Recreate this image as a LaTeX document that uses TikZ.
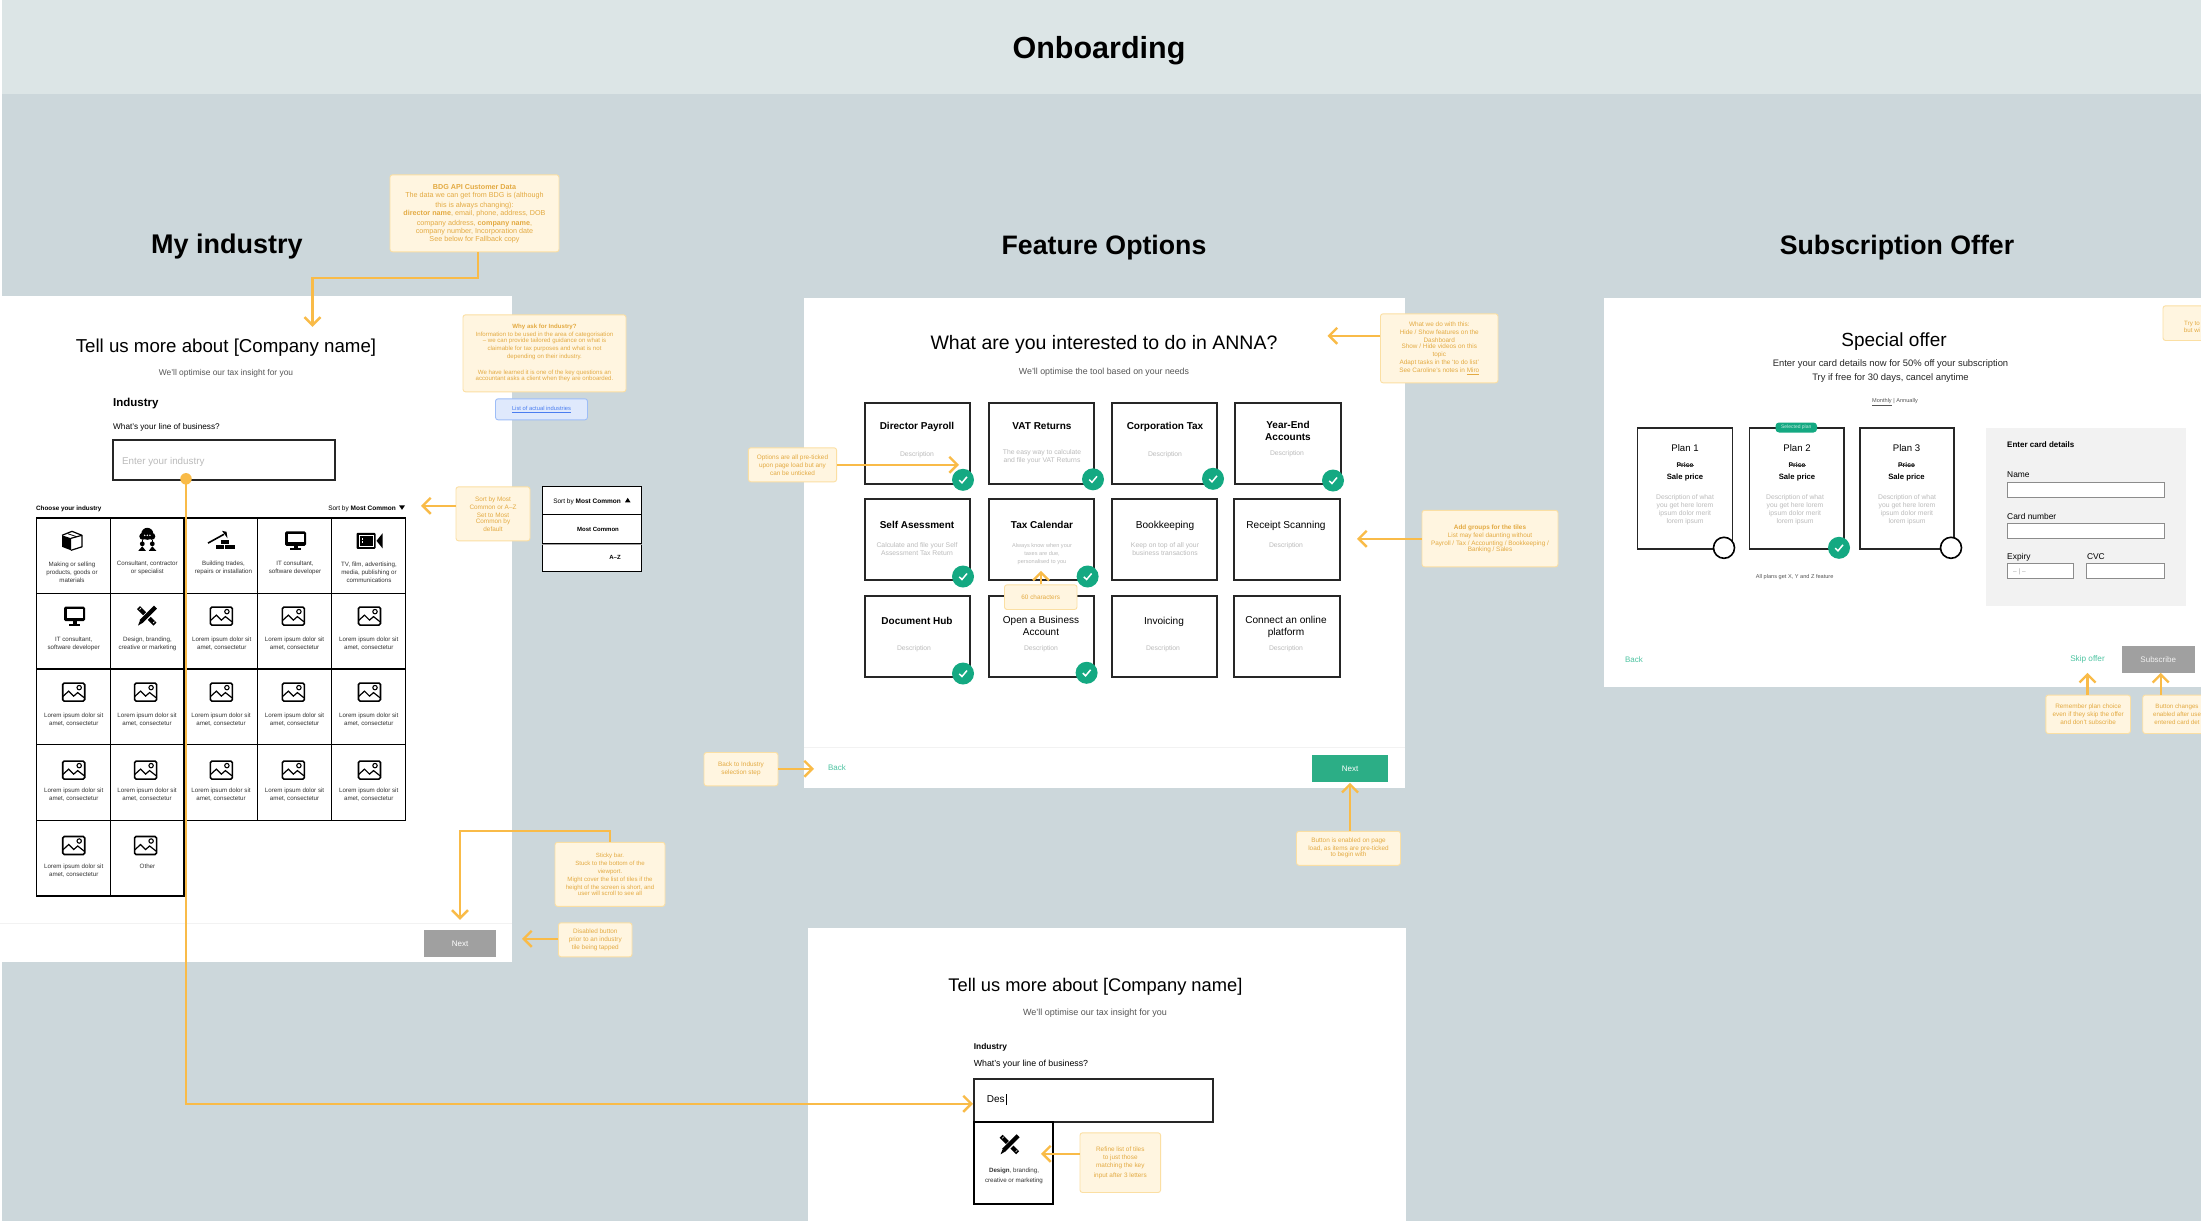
\documentclass[tikz,border=0pt]{standalone}
\usepackage{fontspec}
\setmainfont{Liberation Sans}
\usetikzlibrary{arrows.meta}
\definecolor{bgc}{HTML}{CCD7DB}
\definecolor{headc}{HTML}{DCE5E6}
\definecolor{notef}{HTML}{FFF5E0}
\definecolor{noteb}{HTML}{FBDFA3}
\definecolor{notet}{HTML}{E3AA42}
\definecolor{org}{HTML}{F9BB48}
\definecolor{grn}{HTML}{14A982}
\definecolor{btng}{HTML}{2CAE86}
\definecolor{lnk}{HTML}{4EC4A2}
\definecolor{dis}{HTML}{A0A0A0}
\definecolor{soft}{HTML}{BBBBBB}
\definecolor{sub}{HTML}{555555}
\definecolor{lab}{HTML}{333333}
\definecolor{infof}{HTML}{DFE9FC}
\definecolor{infob}{HTML}{9DBDF7}
\definecolor{infot}{HTML}{4A7DF0}
\newcommand\bx[7]{\node[#2,inner sep=0pt,minimum width={(#5-#3)*1pt},minimum height={(#6-#4)*1pt}] (#1) at ({(#3+#5)/2},{(#4+#6)/2}) {#7};}
\newcommand\tx[6]{\node[anchor=base,inner sep=0pt,font=\fontsize{#3}{#3}\selectfont,#2] (#1) at (#4,{#5+0.36*#3}) {#6};}
\newcommand\tm[7]{\node[align=center,inner sep=0pt,font=\fontsize{#3}{#4}\selectfont,#2] (#1) at (#5,#6) {#7};}
\newcommand\chk[3]{\node[chkc] (#1) at (#2,#3) {};\draw[white,line width=1.5pt] ([shift={(-3.8,0.3)}]#1.center) -- ([shift={(-1,3)}]#1.center) -- ([shift={(4,-3)}]#1.center);}
\tikzset{
  frame/.style={fill=white,draw=none},
  tile/.style={draw=black,fill=white,line width=1.4pt},
  ftile/.style={draw=black!85,fill=white,line width=1.5pt},
  inp/.style={draw=black!85,fill=white,line width=1.7pt},
  ginp/.style={draw=black!45,fill=white,line width=1pt},
  note/.style={fill=notef,draw=noteb,line width=.9pt,rounded corners=2.5pt,text=notet,align=center,font=\fontsize{6.4}{8}\selectfont},
  arr/.style={draw=org,line width=2.4pt,-{Straight Barb[length=8pt,width=16pt,line width=2.4pt]}},
  chkc/.style={circle,fill=grn,minimum size=22pt,inner sep=0pt},
  emptyc/.style={circle,fill=white,draw=black,line width=1.6pt,minimum size=21pt,inner sep=0pt},
  imgicon/.pic={\draw[black,line width=1.6pt,rounded corners=1.5pt,fill=white] (-11,-9) rectangle (11,9);
    \draw[black,line width=1.2pt] (-11,4.5) -- (-5,-1) -- (0,4) -- (4,0.5) -- (11,6);
    \draw[black,line width=1.1pt] (5.5,-4.5) circle (2.2);},
  monicon/.pic={\fill[black,rounded corners=1.5pt] (-10.5,-9.5) rectangle (10.5,5);
    \fill[white] (-8,-7) rectangle (8,1.5);
    \fill[black] (-2,5) rectangle (2,8);
    \fill[black] (-5.5,7.5) rectangle (5.5,9.5);},
  cubeicon/.pic={\fill[black] (-10,-5.5) -- (-1,-2.5) -- (-1,9.5) -- (-10,6) -- cycle;
    \draw[black,line width=1.2pt,line join=round] (-1,-2.5) -- (10,-5.5) -- (10,6) -- (-1,9.5);
    \draw[black,line width=1.2pt,line join=round] (-10,-5.5) -- (0,-9.5) -- (10,-5.5);
    \draw[black,line width=.8pt] (-4,-7) -- (5,-4);},
  considon/.pic={\fill[black] (0,-7) circle (6);
    \fill[black] (-4.5,-4.5) circle (3.5);\fill[black] (4.5,-4.5) circle (3.5);
    \fill[white] (-2.6,-5.5) circle (.8);\fill[white] (0,-5.5) circle (.8);\fill[white] (2.6,-5.5) circle (.8);
    \draw[black,line width=.7pt] (-5,-1) -- (-5,1);\draw[black,line width=.7pt] (5,-1) -- (5,1);
    \fill[black] (-5,3) circle (2.4);\fill[black] (5,3) circle (2.4);
    \fill[black] (-5,5.5) -- (-1.5,10) -- (-9,10) -- cycle;\fill[black] (5,5.5) -- (9,10) -- (1.5,10) -- cycle;},
  hamicon/.pic={\draw[black,line width=1.6pt] (-13,2.3) -- (3,-6.5);
    \fill[black] (1,-10) -- (5.5,-9) -- (6.5,-2.5) -- (4,-6) -- cycle;
    \fill[black] (0,-1) rectangle (8,3);
    \fill[black] (-5,4.5) rectangle (2.5,8.5);\fill[black] (4,4.5) rectangle (14,8.5);},
  camicon/.pic={\fill[black,rounded corners=1pt] (-13,-8) rectangle (6,8);
    \draw[white,line width=.8pt] (-10,-5.5) rectangle (3.5,5.5);
    \fill[white] (-7.5,-3) rectangle (-6.7,-1);\fill[white] (-7.5,.5) rectangle (-6.7,2.5);
    \fill[black] (7,0) -- (13,-7.5) -- (13,7.5) -- cycle;},
  penicon/.pic={\draw[black,line width=4.2pt] (-8.5,-8.5) -- (8,8);
    \draw[white,line width=6.2pt] (7,-7) -- (-6,6);
    \draw[black,line width=4.2pt] (8.5,-9) -- (-6,5.5);
    \fill[black] (-4.5,6.8) -- (-9,9.5) -- (-7,4.5) -- cycle;
    \draw[white,line width=.6pt] (-6,-8) -- (-7.5,-6.5);\draw[white,line width=.6pt] (6,7) -- (7.5,5.5);}
}
\begin{document}
\begin{tikzpicture}[x=1pt,y=-1pt]
\useasboundingbox (0,0) rectangle (2201,1221);
\clip (0,0) rectangle (2201,1221);
% backgrounds
\bx{page}{fill=white}{0}{0}{2201}{1221}{}
\bx{canvas}{fill=bgc}{2}{94}{2201}{1221}{}
\bx{header}{fill=headc}{2}{0}{2201}{94}{}
\tx{tOnb}{}{30.5}{1099}{48}{\textbf{Onboarding}}
\begin{scope}[yshift=-0.8pt]
\tx{tInd}{}{27}{227}{243}{\textbf{My industry}}
\tx{tFea}{}{26.7}{1104}{244}{\textbf{Feature Options}}
\tx{tSub}{}{26.7}{1897}{244}{\textbf{Subscription Offer}}
% ---- frames
\bx{frameA}{frame}{0}{295}{512}{961}{}
\bx{frameB}{frame}{804}{297}{1404.5}{787}{}
\bx{frameC}{frame}{1604}{297}{2201}{686}{}
\bx{frameD}{frame}{808}{927}{1406}{1222}{}
% ---- My industry
\tx{a1}{}{18.7}{226}{345}{Tell us more about [Company name]}
\tx{a2}{text=sub}{8.4}{226}{372}{We'll optimise our tax insight for you}
\tx{a3}{anchor=base west}{11.5}{113}{402}{\textbf{Industry}}
\tx{a4}{anchor=base west}{8.2}{113}{426}{What's your line of business?}
\bx{a5}{inp}{113}{439}{335}{479}{}
\tx{a6}{anchor=base west,text=soft}{9.8}{122}{460}{Enter your industry}
\tx{a7}{anchor=base west}{6.3}{36}{507}{\textbf{Choose your industry}}
\tx{a8}{anchor=base east}{6.5}{396}{507}{Sort by \textbf{Most Common}}
\fill[black] (399,504.5) -- (405,504.5) -- (402,509) -- cycle;
\foreach \r in {0,1,2,3}{\foreach \c in {0,1,2,3,4}{
  \pgfmathsetmacro\xa{36.6+73.73*\c}\pgfmathsetmacro\xb{\xa+73.73}
  \pgfmathsetmacro\ya{517+75.6*\r}\pgfmathsetmacro\yb{\ya+75.6}
  \bx{g\r\c}{tile}{\xa}{\ya}{\xb}{\yb}{}
}}
\foreach \c in {0,1}{
  \pgfmathsetmacro\xa{36.6+73.73*\c}\pgfmathsetmacro\xb{\xa+73.73}
  \bx{g4\c}{tile}{\xa}{819.4}{\xb}{895}{}
}
\pic at (72,540) {cubeicon};
\pic at (147.3,540) {considon};
\pic at (221,540) {hamicon};
\pic at (295.5,540) {monicon};
\pic at (369.5,540) {camicon};
\pic at (74.5,615.3) {monicon};
\pic at (147,615.3) {penicon};
\foreach \x in {221.4,293.4,369.5}{\pic at (\x,615.3) {imgicon};}
\foreach \x in {73.7,145.6,221.4,293.4,369.5}{\pic at (\x,691.3) {imgicon};\pic at (\x,769.3) {imgicon};}
\foreach \x in {73.7,145.6}{\pic at (\x,844.7) {imgicon};}
\tm{l00}{text=lab}{6.2}{8}{72}{571.5}{Making or selling\\products, goods or\\materials}
\tm{l01}{text=lab}{6.2}{8}{147.3}{567.5}{Consultant, contractor\\or specialist}
\tm{l02}{text=lab}{6.2}{8}{223.5}{567.5}{Building trades,\\repairs or installation}
\tm{l03}{text=lab}{6.2}{8}{295}{567.5}{IT consultant,\\software developer}
\tm{l04}{text=lab}{6.2}{8}{369}{571.5}{TV, film, advertising,\\media, publishing or\\communications}
\tm{l10}{text=lab}{6.2}{8}{73.7}{643.3}{IT consultant,\\software developer}
\tm{l11}{text=lab}{6.2}{8}{147.5}{643.3}{Design, branding,\\creative or marketing}
\foreach \i/\x in {2/221.7,3/294.6,4/368.7}{\tm{l1\i}{text=lab}{6.2}{8}{\x}{643.3}{Lorem ipsum dolor sit\\amet, consectetur}}
\foreach \i/\x in {0/73.7,1/147,2/221,3/294.6,4/368.7}{
  \tm{l2\i}{text=lab}{6.2}{8}{\x}{718.7}{Lorem ipsum dolor sit\\amet, consectetur}
  \tm{l3\i}{text=lab}{6.2}{8}{\x}{794}{Lorem ipsum dolor sit\\amet, consectetur}
}
\tm{l40}{text=lab}{6.2}{8}{73.7}{869.7}{Lorem ipsum dolor sit\\amet, consectetur}
\tm{l41}{text=lab}{6.2}{8}{147.5}{865.7}{Other}
\draw[black!5,line width=1pt] (frameA.west |- 0,922.7) -- (frameA.east |- 0,922.7);
\bx{nextA}{fill=dis,text=white,font=\fontsize{8}{8}\selectfont}{424}{929}{496}{956}{Next}
% dropdown
\bx{dd1}{tile,line width=1.2pt}{542.5}{485.7}{641.5}{514}{}
\bx{dd2}{tile,line width=1.2pt}{542.5}{514}{641.5}{543}{}
\bx{dd3}{tile,line width=1.2pt}{542.5}{543}{641.5}{571}{}
\draw[dis,line width=1.6pt] (dd2.south west) -- (dd2.south east);
\tx{dd1t}{anchor=base east}{6.5}{621}{500}{Sort by \textbf{Most Common}}
\fill[black] (625,501.5) -- (630.5,501.5) -- (627.7,497) -- cycle;
\tx{dd2t}{}{6}{598}{529}{\textbf{Most Common}}
\tx{dd3t}{}{6}{615}{557}{\textbf{A–Z}}
% ---- Feature options
\tx{b1}{}{19.5}{1104}{342}{What are you interested to do in ANNA?}
\tx{b2}{text=sub}{8.8}{1104}{371}{We'll optimise the tool based on your needs}
\bx{f1}{ftile}{865}{402}{970}{483}{}
\bx{f2}{ftile}{989}{402}{1094}{483}{}
\bx{f3}{ftile}{1112}{402}{1217}{483}{}
\bx{f4}{ftile}{1235}{402}{1341}{483}{}
\bx{f5}{ftile}{865}{498}{970}{579}{}
\bx{f6}{ftile}{989}{498}{1094}{579}{}
\bx{f7}{ftile}{1112}{498}{1217}{579}{}
\bx{f8}{ftile}{1234}{498}{1340}{579}{}
\bx{f9}{ftile}{865}{595}{970}{676}{}
\bx{f10}{ftile}{989}{595}{1094}{676}{}
\bx{f11}{ftile}{1112}{595}{1217}{676}{}
\bx{f12}{ftile}{1234}{595}{1340}{676}{}
\tx{f1t}{}{10}{917}{425}{\textbf{Director Payroll}}
\tx{f2t}{}{10}{1042}{425}{\textbf{VAT Returns}}
\tx{f3t}{}{10}{1165}{425}{\textbf{Corporation Tax}}
\tm{f4t}{}{10}{12}{1288}{430}{\textbf{Year-End}\\\textbf{Accounts}}
\tx{f5t}{}{10}{917}{524}{\textbf{Self Asessment}}
\tx{f6t}{}{10}{1042}{524}{\textbf{Tax Calendar}}
\tx{f7t}{}{10.1}{1165}{524}{Bookkeeping}
\tx{f8t}{}{10.1}{1286}{524}{Receipt Scanning}
\tx{f9t}{}{10}{917}{620}{\textbf{Document Hub}}
\tm{f10t}{}{10}{12}{1041}{625.5}{Open a Business\\Account}
\tx{f11t}{}{10.1}{1164}{620}{Invoicing}
\tm{f12t}{}{10.1}{12}{1286}{626}{Connect an online\\platform}
\tx{f1d}{text=soft}{6.8}{917}{453}{Description}
\tm{f2d}{text=soft}{6.8}{8}{1042}{456}{The easy way to calculate\\and file your VAT Returns}
\tx{f3d}{text=soft}{6.8}{1165}{453}{Description}
\tx{f4d}{text=soft}{6.8}{1287}{452.5}{Description}
\tm{f5d}{text=soft}{6.8}{8}{917}{548}{Calculate and file your Self\\Assessment Tax Return}
\tm{f6d}{text=soft}{5.6}{8}{1042}{553}{Always know when your\\taxes are due,\\personalised to you}
\tm{f7d}{text=soft}{6.8}{8}{1165}{548}{Keep on top of all your\\business transactions}
\tx{f8d}{text=soft}{6.8}{1286}{544.5}{Description}
\tx{f9d}{text=soft}{6.8}{914}{647}{Description}
\tx{f10d}{text=soft}{6.8}{1041}{647}{Description}
\tx{f11d}{text=soft}{6.8}{1163}{647}{Description}
\tx{f12d}{text=soft}{6.8}{1286}{647}{Description}
\chk{c1}{963}{479}
\chk{c2}{1093}{478.5}
\chk{c3}{1213}{478}
\chk{c4}{1333}{479.7}
\chk{c5}{963}{575.7}
\chk{c6}{1087.6}{575.7}
\chk{c9}{963}{672.7}
\chk{c10}{1086.6}{672}
\draw[black!5,line width=1pt] (frameB.west |- 0,746.7) -- (frameB.east |- 0,746.7);
\tx{backB}{text=lnk}{8}{837}{767}{Back}
\bx{nextB}{fill=btng,text=white,font=\fontsize{8}{8}\selectfont}{1312}{754}{1388}{781}{Next}
% ---- Bottom frame
\tx{d1}{}{18.3}{1095.4}{984}{Tell us more about [Company name]}
\tx{d2}{text=sub}{9}{1095}{1011}{We'll optimise our tax insight for you}
\tx{d3}{anchor=base west}{8.4}{973.6}{1046}{\textbf{Industry}}
\tx{d4}{anchor=base west}{8.8}{973.6}{1063}{What's your line of business?}
\bx{d5}{inp}{974}{1078}{1213}{1121}{}
\tx{d6}{anchor=base west}{10}{986.6}{1098}{Des}
\draw[black,line width=.8pt] ([shift={(1.2,-1)}]d6.north east) -- ([shift={(1.2,10)}]d6.north east);
\bx{d7}{tile}{974}{1121}{1053}{1203}{}
\pic at (1009.6,1144) {penicon};
\tm{d8}{text=lab}{6.2}{10}{1014}{1175.3}{\textbf{Design}, branding,\\creative or marketing}
% ---- Subscription
\tx{s1}{}{19}{1894}{338.7}{Special offer}
\tm{s2}{text=black!85}{9.4}{14}{1890.5}{370.7}{Enter your card details now for 50\% off your subscription\\Try if free for 30 days, cancel anytime}
\tx{s3}{text=sub}{5.6}{1895}{400}{\underline{Monthly} | Annually}
\bx{p1}{ftile}{1637.6}{427}{1732.6}{548}{}
\bx{p2}{ftile}{1749.5}{427}{1843.8}{548}{}
\bx{p3}{ftile}{1860}{427}{1954}{548}{}
\bx{pill}{fill=grn,rounded corners=3.5pt,text=white!75!grn,font=\fontsize{5}{5}\selectfont}{1775.5}{421.7}{1817}{431.7}{Selected plan}
\foreach \n/\x/\dx in {1/1685/1685,2/1797/1795,3/1906.5/1907}{
  \tx{pt\n}{}{9.6}{\x}{447}{Plan \n}
  \tx{pr\n}{}{6.8}{\x}{464.3}{\textbf{Price}}
  \draw[black!70,line width=.35pt] (pr\n.west) -- (pr\n.east);
  \tx{ps\n}{}{7.7}{\x}{476.3}{\textbf{Sale price}}
  \tm{pd\n}{text=soft}{6.8}{8.1}{\dx}{509}{Description of what\\you get here lorem\\ipsum dolor merit\\lorem ipsum}
}
\node[emptyc] (r1) at (1724,547) {};
\chk{r2}{1839}{547}
\node[emptyc] (r3) at (1951,547) {};
\tx{s4}{text=sub}{5.6}{1794.7}{575.7}{All plans get X, Y and Z feature}
\bx{card}{fill=black!5}{1986}{427}{2186.4}{604.7}{}
\tx{s5}{anchor=base west}{8}{2007}{444}{\textbf{Enter card details}}
\tx{s6}{anchor=base west}{8.4}{2007}{474}{Name}
\bx{i1}{ginp}{2007}{481.3}{2164}{496.7}{}
\tx{s7}{anchor=base west}{8.4}{2007}{515.7}{Card number}
\bx{i2}{ginp}{2007}{523}{2164}{538}{}
\tx{s8}{anchor=base west}{8.4}{2007}{555.7}{Expiry}
\bx{i3}{ginp}{2007}{562.3}{2073.7}{577.7}{}
\tx{s9}{anchor=base west,text=dis}{6.5}{2013}{570}{-- | --}
\tx{s10}{anchor=base west}{8.4}{2086.8}{555.7}{CVC}
\bx{i4}{ginp}{2086.8}{562.3}{2164}{577.7}{}
\tx{backC}{text=lnk}{8}{1634}{658.7}{Back}
\tx{skip}{text=lnk}{8.2}{2087.5}{658}{Skip offer}
\bx{subs}{fill=dis,text=white!85!dis,font=\fontsize{8}{8}\selectfont}{2122}{645}{2194.5}{671.7}{Subscribe}
% ---- notes
\bx{nBdg}{note,font=\fontsize{7.2}{8}\selectfont}{390}{174}{559}{251}{\textbf{BDG API Customer Data}\\The data we can get from BDG is (although\\[2pt]this is always changing):\\\textbf{director name}, email, phone, address, DOB\\[2pt]company address, \textbf{company name},\\company number, Incorporation date\\See below for Fallback copy}
\bx{nWhy}{note,font=\fontsize{6.1}{8}\selectfont}{463}{314}{626}{391}{\textbf{Why ask for Industry?}\\Information to be used in the area of categorisation\\[-2pt]– we can provide tailored guidance on what is\\claimable for tax purposes and what is not\\depending on their industry.\\[8pt]We have learned it is one of the key questions an\\[-2pt]accountant asks a client when they are onboarded.}
\bx{nList}{fill=infof,draw=infob,line width=.9pt,rounded corners=2.5pt,text=infot,font=\fontsize{5.8}{8}\selectfont}{495.5}{398}{587.5}{419}{\underline{List of actual industries}}
\bx{nSort}{note}{456}{486}{530}{540}{Sort by Most\\Common or A–Z\\Set to Most\\[-2pt]Common by\\default}
\bx{nSticky}{note,font=\fontsize{6.1}{8}\selectfont}{555}{841.5}{665}{905.5}{Sticky bar.\\Stuck to the bottom of the\\viewport.\\Might cover the list of tiles if the\\height of the screen is short, and\\[-2pt]user will scroll to see all}
\bx{nDis}{note}{558.5}{922}{632}{956}{Disabled button\\prior to an industry\\tile being tapped}
\bx{nOpt}{note}{748.4}{447}{836.6}{481}{Options are all pre-ticked\\upon page load but any\\can be unticked}
\bx{nWhat}{note}{1380.5}{313}{1498}{382}{What we do with this:\\Hide / Show features on the\\Dashboard\\[-2pt]Show / Hide videos on this\\topic\\Adapt tasks in the ‘to do list’\\See Caroline's notes in \underline{Miro}}
\bx{nAdd}{note}{1422}{509.5}{1558}{566}{\textbf{Add groups for the tiles}\\List may feel daunting without\\Payroll / Tax / Accounting / Bookkeeping /\\[-2pt]Banking / Sales}
\bx{n60}{note}{1004.5}{584}{1077}{608.7}{60 characters}
\bx{nBack}{note}{704}{751.7}{778}{785}{Back to Industry\\selection step}
\bx{nBtn}{note}{1296.5}{830.5}{1400.5}{864.5}{Button is enabled on page\\load, as items are pre-ticked\\[-2pt]to begin with}
\bx{nRef}{note}{1080}{1132}{1160.6}{1191.7}{Refine list of tiles\\to just those\\matching the key\\[2pt]input after 3 letters}
\bx{nRem}{note}{2045.8}{694.3}{2130.5}{732.7}{Remember plan choice\\even if they skip the offer\\and don't subscribe}
\bx{nChg}{note}{2142.7}{694.3}{2228}{732.7}{}
\tm{nChgT}{text=notet}{6.2}{8}{2177}{713.5}{Button changes\\enabled after use\\entered card det}
\bx{nTry}{note}{2163}{305}{2260}{339.7}{}
\tm{nTryT}{text=notet}{6.2}{6.4}{2192}{326}{Try to\\but wi}
% ---- connectors
\coordinate (tBdg) at (312.5,326);
\coordinate (tSort) at (421,505);
\coordinate (tSticky) at (460,919);
\coordinate (tDis) at (522,938);
\coordinate (tOpt) at (959,464);
\coordinate (tWhat) at (1327.5,335);
\coordinate (tAdd) at (1357,538);
\coordinate (t60) at (1041,570);
\coordinate (tBack) at (814,768);
\coordinate (tBtn) at (1350,782);
\coordinate (tDes) at (973,1103);
\coordinate (tRef) at (1041,1153);
\coordinate (tRem) at (2087.5,672);
\coordinate (tChg) at (2160.7,672);
\node[circle,fill=org,minimum size=11.5pt,inner sep=0pt] (dot) at (186,478) {};
\draw[arr] (dot.center) |- (tDes);
\draw[arr] ([xshift=3.5pt]nBdg.south) -- ++(0,26) -| (tBdg);
\draw[arr] (nSort.west |- tSort) -- (tSort);
\draw[arr,line width=1.9pt] (nSticky.north) -- ++(0,-11) -| (tSticky);
\draw[arr] (nDis.west |- tDis) -- (tDis);
\draw[arr] (nOpt.east |- tOpt) -- (tOpt);
\draw[arr] (nWhat.west |- tWhat) -- (tWhat);
\draw[arr] (nAdd.west |- tAdd) -- (tAdd);
\draw[arr,line width=1.7pt] (n60.north -| t60) -- (t60);
\draw[arr] (nBack.east |- tBack) -- (tBack);
\draw[arr,line width=1.7pt] (nBtn.north -| tBtn) -- (tBtn);
\draw[arr] (nRef.west |- tRef) -- (tRef);
\draw[arr] (nRem.north -| tRem) -- (tRem);
\draw[arr] (nChg.north -| tChg) -- (tChg);
\end{scope}
\end{tikzpicture}
\end{document}
